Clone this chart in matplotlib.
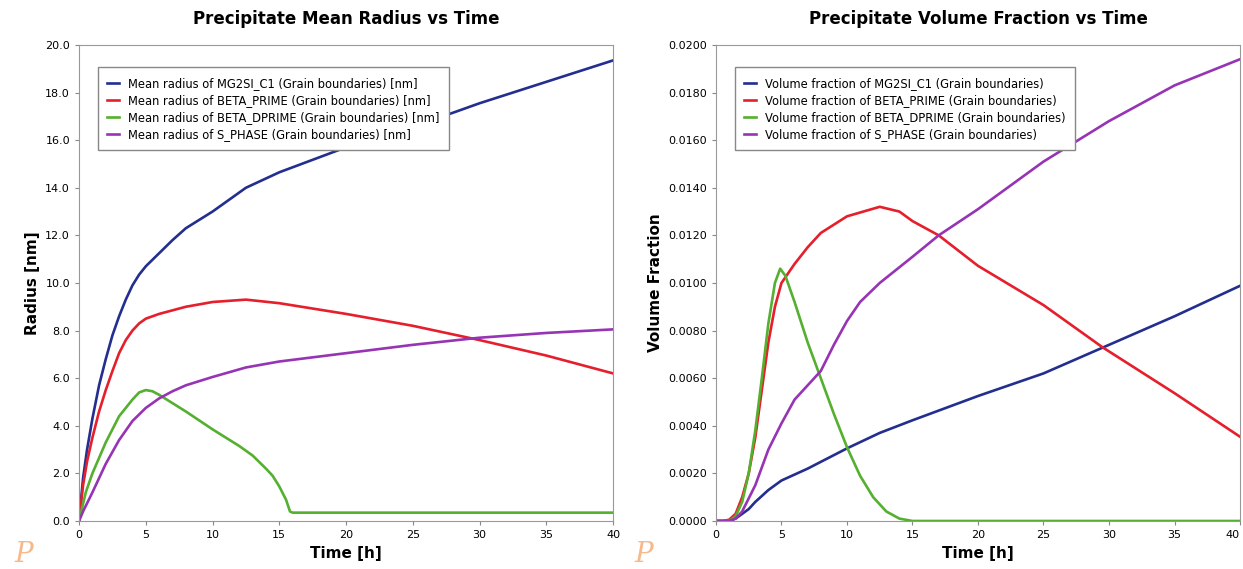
import matplotlib.pyplot as plt

# time points [h]
t_mg2si_r = [0, 0.3, 0.6, 1, 1.5, 2, 2.5, 3, 3.5, 4, 4.5, 5, 6, 7, 8, 10, 12.5, 15, 20, 25, 28, 30, 35, 40]
r_mg2si = [0, 1.8, 3.0, 4.3, 5.7, 6.8, 7.8, 8.6, 9.3, 9.9, 10.35, 10.7, 11.25, 11.8, 12.3, 13.0, 14.0, 14.65, 15.7, 16.6, 17.15, 17.55, 18.45, 19.35]

t_beta_r = [0, 0.3, 0.6, 1, 1.5, 2, 2.5, 3, 3.5, 4, 4.5, 5, 6, 7, 8, 10, 12.5, 15, 20, 25, 30, 35, 40]
r_beta = [0, 1.5, 2.5, 3.5, 4.6, 5.5, 6.3, 7.05, 7.6, 8.0, 8.3, 8.5, 8.7, 8.85, 9.0, 9.2, 9.3, 9.15, 8.7, 8.2, 7.6, 6.95, 6.2]

t_dprime_r = [0, 0.5, 1, 2, 3, 4, 4.5, 5, 5.5, 6, 8, 10, 12, 13, 14, 14.5, 15, 15.5, 15.8, 16, 20, 30, 40]
r_dprime = [0, 1.2, 2.0, 3.3, 4.4, 5.1, 5.4, 5.5, 5.45, 5.3, 4.6, 3.85, 3.15, 2.75, 2.2, 1.9, 1.45, 0.9, 0.4, 0.35, 0.35, 0.35, 0.35]

t_sphase_r = [0, 0.3, 1, 2, 3, 4, 5, 6, 7, 8, 10, 12.5, 15, 20, 25, 30, 35, 40]
r_sphase = [0, 0.4, 1.2, 2.4, 3.4, 4.2, 4.75, 5.15, 5.45, 5.7, 6.05, 6.45, 6.7, 7.05, 7.4, 7.7, 7.9, 8.05]

t_mg2si_v = [0, 1, 1.5, 2, 2.5, 3, 3.5, 4, 4.5, 5, 7, 10, 12.5, 15, 20, 25, 30, 35, 40]
v_mg2si = [0, 0, 0.0001, 0.0003, 0.0005, 0.0008, 0.00105, 0.0013, 0.0015, 0.0017, 0.0022, 0.00305, 0.0037, 0.00423, 0.00525, 0.0062, 0.0074, 0.0086, 0.00988]

t_beta_v = [0, 0.5, 1, 1.5, 2, 2.5, 3, 3.5, 4, 4.5, 5, 6, 7, 8, 10, 12.5, 14, 15, 17, 20, 25, 29.5, 35, 40]
v_beta = [0, 0, 0.00005, 0.0003, 0.001, 0.002, 0.0035, 0.0055, 0.0075, 0.009, 0.01, 0.0108, 0.0115, 0.0121, 0.0128, 0.0132, 0.013, 0.0126, 0.012, 0.01072, 0.00907, 0.0073, 0.00537, 0.00354]

t_dprime_v = [0, 1, 1.5, 2, 2.5, 3, 3.5, 4, 4.5, 4.9, 5.3, 6, 7, 8, 9, 10, 11, 12, 13, 14, 15, 20, 30, 40]
v_dprime = [0, 0, 0.0002, 0.0008, 0.002, 0.0038, 0.006, 0.0083, 0.01, 0.0106, 0.0103, 0.0092, 0.0075, 0.006, 0.0045, 0.0031, 0.0019, 0.001, 0.0004, 0.0001, 0, 0, 0, 0]

t_sphase_v = [0, 1, 1.5, 2, 3, 4, 5, 6, 7, 8, 9, 10, 11, 12.5, 15, 17, 20, 25, 30, 35, 40]
v_sphase = [0, 0, 0.0001, 0.0004, 0.0015, 0.003, 0.0041, 0.0051, 0.0057, 0.0063, 0.0074, 0.0084, 0.0092, 0.01, 0.0111, 0.012, 0.0131, 0.0151, 0.0168, 0.0183, 0.0194]

phases = ['MG2SI_C1', 'BETA_PRIME', 'BETA_DPRIME', 'S_PHASE']
colors = ['#232e8f', '#e51f2b', '#54b02e', '#9634b4']

radius_data = [(t_mg2si_r, r_mg2si), (t_beta_r, r_beta), (t_dprime_r, r_dprime), (t_sphase_r, r_sphase)]
vf_data = [(t_mg2si_v, v_mg2si), (t_beta_v, v_beta), (t_dprime_v, v_dprime), (t_sphase_v, v_sphase)]

fig = plt.figure(figsize=(12.43, 5.69), dpi=100)
ax1 = fig.add_axes([0.0636, 0.0844, 0.4296, 0.8366])
ax2 = fig.add_axes([0.576, 0.0844, 0.4216, 0.8366])

for (t, r), name, c in zip(radius_data, phases, colors):
    ax1.plot(t, r, color=c, lw=1.9, label=f'Mean radius of {name} (Grain boundaries) [nm]')
for (t, v), name, c in zip(vf_data, phases, colors):
    ax2.plot(t, v, color=c, lw=1.9, label=f'Volume fraction of {name} (Grain boundaries)')

ax1.set_ylim(0, 20)
ax1.set_yticks(range(0, 21, 2))
ax1.set_yticklabels([f'{v:.1f}' for v in range(0, 21, 2)])
ax1.set_ylabel('Radius [nm]', fontsize=11, fontweight='bold')
ax1.set_title('Precipitate Mean Radius vs Time', fontsize=12, fontweight='bold', pad=15)

vt = [i * 0.002 for i in range(11)]
ax2.set_ylim(0, 0.02)
ax2.set_yticks(vt)
ax2.set_yticklabels([f'{v:.4f}' for v in vt])
ax2.set_ylabel('Volume Fraction', fontsize=11, fontweight='bold')
ax2.set_title('Precipitate Volume Fraction vs Time', fontsize=12, fontweight='bold', pad=15)

for ax in (ax1, ax2):
    ax.set_xlim(0, 40)
    ax.set_xticks(range(0, 41, 5))
    ax.set_xlabel('Time [h]', fontsize=11, fontweight='bold')
    ax.tick_params(labelsize=8, length=3, color='#888888')
    for s in ax.spines.values():
        s.set_color('#999999')
    leg = ax.legend(loc='upper left', bbox_to_anchor=(0.025, 0.965), fontsize=8.3,
                    handlelength=1.0, handletextpad=0.8, labelspacing=0.35,
                    fancybox=False, framealpha=1, borderpad=0.8)
    leg.get_frame().set_edgecolor('#888888')

# keep the last tick label of the right panel inside the figure
ax2.get_xticklabels()[-1].set_horizontalalignment('right')

# logo-like marks in the bottom-left corners
for x in (0.012, 0.51):
    fig.text(x, 0.012, 'P', fontsize=20, color='#f7b98a', style='italic', family='DejaVu Serif')

fig.savefig('out.png', dpi=100)
